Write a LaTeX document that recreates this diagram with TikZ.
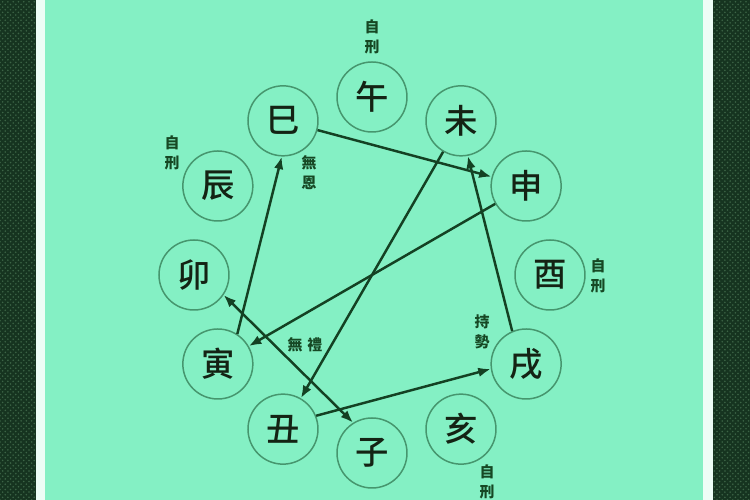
\documentclass[tikz,border=0pt]{standalone}
\usepackage{fontspec}
\usepackage{tikz}
\usetikzlibrary{arrows.meta,shapes,patterns}
\newfontfamily\cjk{Noto Sans CJK TC}
\newfontfamily\cjkmid{Noto Sans CJK TC Medium}
\definecolor{mint}{RGB}{132,240,196}
\definecolor{ringgreen}{RGB}{70,150,110}
\definecolor{linegreen}{RGB}{20,65,35}
\definecolor{inkdark}{RGB}{20,35,20}
\definecolor{notegreen}{RGB}{22,72,36}
\definecolor{framedark}{RGB}{22,52,32}
\definecolor{framedots}{RGB}{60,100,70}

\begin{document}
\begin{tikzpicture}
\useasboundingbox (-7.44,-4.5) rectangle (7.56,5.5);
\fill[mint] (-7.44,-4.5) rectangle (7.56,5.5);

% frame at both sides
\fill[framedark] (-7.44,-4.5) rectangle (-6.72,5.5);
\fill[pattern=crosshatch dots,pattern color=framedots] (-7.44,-4.5) rectangle (-6.72,5.5);
\fill[white!85!mint] (-6.72,-4.5) rectangle (-6.54,5.5);
\fill[framedark] (6.82,-4.5) rectangle (7.56,5.5);
\fill[pattern=crosshatch dots,pattern color=framedots] (6.82,-4.5) rectangle (7.56,5.5);
\fill[white!85!mint] (6.62,-4.5) rectangle (6.82,5.5);

\tikzstyle{branch}=[draw=ringgreen,line width=0.85pt,circle,minimum size=1.4cm,inner sep=0pt,text=inkdark,font=\cjkmid\fontsize{19}{19}\selectfont]
\tikzstyle{note}=[text=notegreen,align=center,inner sep=0pt,font=\cjk\bfseries\fontsize{8.5}{11.4}\selectfont]
\tikzstyle{arr}=[->,>={Latex[length=2.5mm,width=1.9mm]},line width=1.4pt,draw=linegreen]

\draw (90:3.56) node[branch] (wu) {午};
\draw (120:3.56) node[branch] (si) {巳};
\draw (150:3.56) node[branch] (chen) {辰};
\draw (180:3.56) node[branch] (mao) {卯};
\draw (210:3.56) node[branch] (yin) {寅};
\draw (240:3.56) node[branch] (chou) {丑};
\draw (270:3.56) node[branch] (zi) {子};
\draw (300:3.56) node[branch] (hai) {亥};
\draw (330:3.56) node[branch] (xu) {戌};
\draw (0:3.56) node[branch] (you) {酉};
\draw (30:3.56) node[branch] (shen) {申};
\draw (60:3.56) node[branch] (wei) {未};

\draw (0,4.76) node[note] (wunote) {自\\刑};
\draw (-4.0,2.45) node[note] (chennote) {自\\刑};
\draw (-1.26,2.04) node[note] (sinote) {無\\恩};
\draw (4.52,-0.02) node[note] (younote) {自\\刑};
\draw (2.2,-1.14) node[note] (xunote) {持\\勢};
\draw (-1.34,-1.4) node[note] (yinnote) {無\hspace{0.1cm}禮};
\draw (2.3,-4.14) node[note] (hainote) {自\\刑};

\draw[arr] (si) -- (shen);
\draw[arr] (yin.57) -- (si.268);
\draw[arr] (shen) -- (yin);
\draw[arr] (wei) -- (chou);
\draw[arr] (xu.113) -- (wei.281);
\draw[arr] (chou.22) -- (xu.188);
\draw[arr,<->] (mao.326) -- (zi.122);
\end{tikzpicture}
\end{document}
